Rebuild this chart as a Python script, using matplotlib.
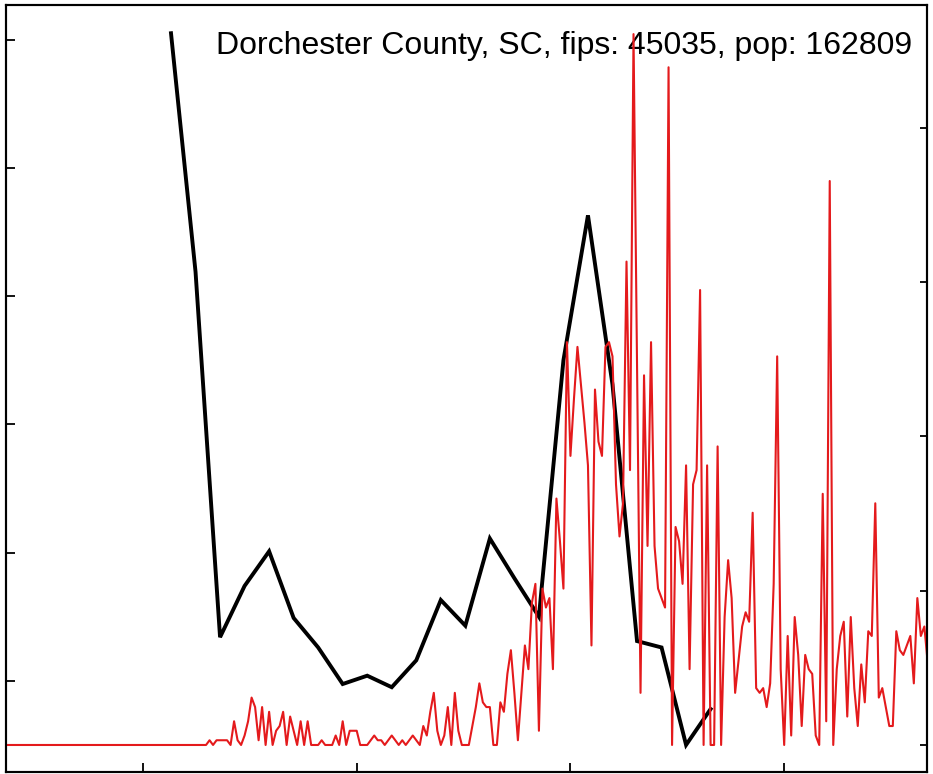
import numpy as np
import pandas as pd
import matplotlib
matplotlib.use("Agg")
import matplotlib.pyplot as plt

# ── Data ──────────────────────────────────────────────────────────────────────
TITLE = "Dorchester County, SC, fips: 45035, pop: 162809"
POP = 162809

# daily new cases, starting 2020-02-17 (zeros until mid April)
daily_start = "2020-02-17"
daily_cases = [0] * 62 + [
    0, 1, 0, 1, 1, 1, 1, 0, 5, 1, 0, 2, 5, 10, 8, 1, 8, 0, 7, 0,
    3, 4, 7, 0, 6, 3, 0, 5, 0, 5, 0, 0, 0, 1, 0, 0, 0, 2, 0, 5,
    0, 3, 3, 3, 0, 0, 0, 1, 2, 1, 1, 0, 1, 2, 1, 0, 1, 0, 1, 2,
    1, 0, 4, 2, 7, 11, 3, 0, 2, 8, 0, 11, 3, 0, 0, 0, 4, 8, 13, 9,
    8, 8, 0, 0, 9, 7, 15, 20, 11, 1, 11, 21, 16, 30, 34, 3, 33, 29, 31, 16,
    52, 43, 33, 85, 61, 73, 84, 76, 68, 59, 21, 75, 64, 61, 84, 85, 82, 55, 44, 51,
    102, 58, 150, 81, 11, 78, 42, 85, 42, 33, 31, 29, 143,
    0, 46, 43, 34, 59, 16, 55, 58, 96, 0, 59, 0, 0, 63, 0, 27, 39, 31, 11, 18,
    25, 28, 26, 49, 12, 11, 12, 8, 13, 34, 82, 16, 0, 23, 2, 27, 19, 4, 19, 16,
    15, 2, 0, 53, 5, 119, 0, 16, 23, 26, 6, 27, 12, 4, 17, 9, 24, 23, 51, 10,
    12, 8, 4, 4, 24, 20, 19, 21, 23, 13, 31, 23, 25, 17,
]

# weekly series, starting 2020-04-09
weekly_start = "2020-04-09"
weekly_vals = [60.5, 41.9, 13.4, 17.4, 20.1, 14.9, 12.6, 9.75, 10.4, 9.5, 11.6,
               16.3, 14.3, 21.1, 18.0, 15.0, 35.0, 46.3, 33.1, 13.1, 12.6, 5.0, 7.8]

daily_dates = pd.date_range(daily_start, periods=len(daily_cases), freq="D")
weekly_dates = pd.date_range(weekly_start, periods=len(weekly_vals), freq="7D")
daily_per100k = np.array(daily_cases) / POP * 1e5

x_ticks = pd.to_datetime(["2020-04-01", "2020-06-01", "2020-08-01", "2020-10-01"])
left_ticks = [10, 20, 30, 40, 50, 60]
right_ticks = [0, 20, 40, 60, 80]

# ── Plot ──────────────────────────────────────────────────────────────────────
fig = plt.figure(figsize=(9.33, 7.74), dpi=100)
ax = fig.add_axes([0.0064, 0.0026, 0.9877, 0.9909])
ax2 = ax.twinx()

ax.plot(weekly_dates, weekly_vals, color="black", lw=2.8, solid_joinstyle="miter")
ax2.plot(daily_dates, daily_per100k, color="#e41a1c", lw=1.5)

ax.set_xlim(pd.Timestamp("2020-04-01") - pd.Timedelta(days=39.1),
            pd.Timestamp("2020-04-01") + pd.Timedelta(days=223.9))
ax.set_ylim(2.89, 62.7)
ax2.set_ylim(-3.5, 95.9)

ax.set_xticks(x_ticks)
ax.set_yticks(left_ticks)
ax2.set_yticks(right_ticks)

ax.tick_params(direction="in", length=6.5, width=1.3, labelleft=False,
               labelbottom=False, top=False, right=False)
ax2.tick_params(direction="in", length=5, width=1.3, labelright=False)
for a in (ax, ax2):
    for s in a.spines.values():
        s.set_linewidth(1.5)

ax.text(0.983, 0.936, TITLE, transform=ax.transAxes, ha="right", va="baseline",
        fontsize=23, family=["Liberation Sans", "DejaVu Sans"], zorder=1)

fig.savefig("out.png", dpi=100)
